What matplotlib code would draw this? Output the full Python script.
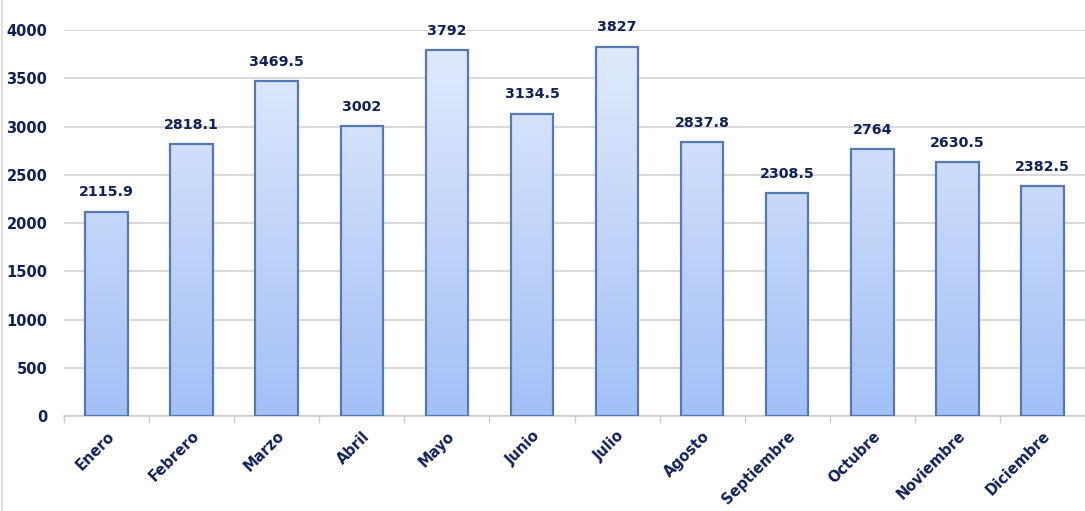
import matplotlib
matplotlib.use("Agg")
import matplotlib.pyplot as plt
import numpy as np
from matplotlib.colors import LinearSegmentedColormap

months = ["Enero", "Febrero", "Marzo", "Abril", "Mayo", "Junio", "Julio",
          "Agosto", "Septiembre", "Octubre", "Noviembre", "Diciembre"]
values = [2115.9, 2818.1, 3469.5, 3002, 3792, 3134.5, 3827,
          2837.8, 2308.5, 2764, 2630.5, 2382.5]
labels = ["2115.9", "2818.1", "3469.5", "3002", "3792", "3134.5", "3827",
          "2837.8", "2308.5", "2764", "2630.5", "2382.5"]
yticks = [0, 500, 1000, 1500, 2000, 2500, 3000, 3500, 4000]

navy = "#0f2157"
plt.rcParams['font.family'] = ['DejaVu Sans']

fig = plt.figure(figsize=(10.85, 5.11), dpi=100)
ax = fig.add_axes([0.059, 0.186, 0.941, 0.755])

x = np.arange(len(months))
bars = ax.bar(x, values, width=0.5, color="none", edgecolor="#5579b2",
              linewidth=1.6, zorder=3)
cmap = LinearSegmentedColormap.from_list("g", ["#a3c0f7", "#e3ecfd"])
grad = np.linspace(0, 1, 256).reshape(-1, 1)
for b in bars:
    x0 = b.get_x()
    w = b.get_width()
    im = ax.imshow(grad, cmap=cmap, origin="lower", aspect="auto",
                   extent=[x0, x0 + w, 0, 4000], zorder=2)
    im.set_clip_path(b)

for xi, v, lab in zip(x, values, labels):
    ax.text(xi, v + 130, lab, ha="center", va="bottom", fontsize=10.2,
            fontweight="bold", color=navy, zorder=4)

ax.set_xlim(-0.5, len(months) - 0.5)
ax.set_ylim(0, 4000)
ax.set_yticks(yticks)
ax.set_yticklabels([str(t) for t in yticks], fontsize=10.5, fontweight="bold", color=navy)
ax.tick_params(axis="y", length=0, pad=12)
ax.set_xticks(x)
ax.set_xticklabels(months, rotation=45, ha="right", rotation_mode="anchor",
                   fontsize=10.5, fontweight="bold", color=navy)
ax.tick_params(axis="x", length=0, pad=9)
ax.set_xticks(np.arange(-0.5, len(months) + 0.5, 1), minor=True)
ax.tick_params(axis="x", which="minor", length=5, color="#cccccc", width=1)
ax.grid(axis="y", color="#d3d3d3", linewidth=1.2, zorder=0)
ax.set_axisbelow(True)
for s in ["top", "right", "left"]:
    ax.spines[s].set_visible(False)
ax.spines["bottom"].set_color("#cccccc")
ax.spines["bottom"].set_linewidth(1.2)

fig.add_artist(plt.Line2D([0.002, 0.002], [0, 1], color="#d9d9d9", linewidth=1.2,
                          transform=fig.transFigure))

fig.savefig("out.png", dpi=100)
